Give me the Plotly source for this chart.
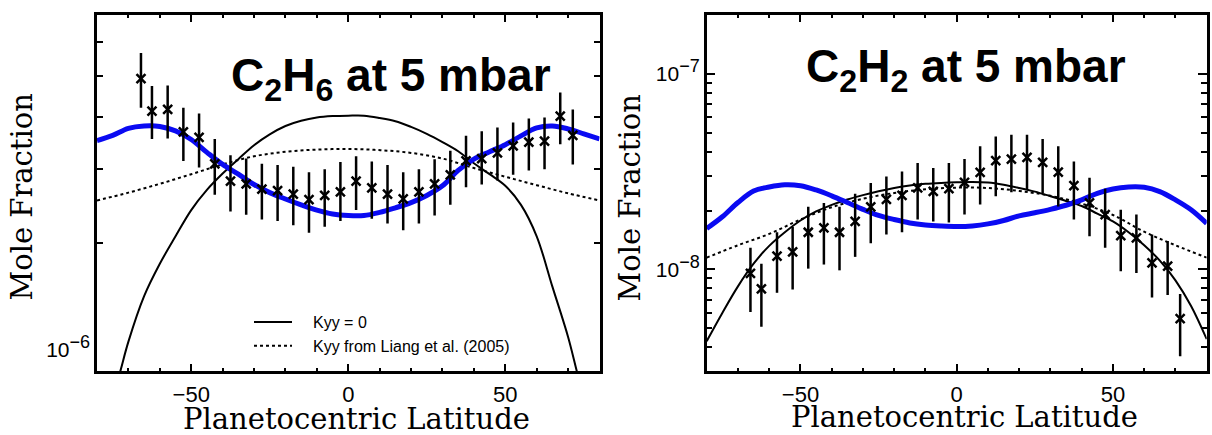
import plotly.graph_objects as go

# ---------------- data: C2H6 at 5 mbar (left panel) ----------------
c2h6_lat = [-66, -62.5, -57.5, -52.5, -47.5, -42.5, -37.5, -32.5, -27.5, -22.5,
            -17.5, -12.5, -7.5, -2.5, 2.5, 7.5, 12.5, 17.5, 22.5, 27.5,
            32.5, 37.5, 42.5, 47.5, 52.5, 57.5, 62.5, 67.5, 71.5]
c2h6_obs = [4.92e-6, 4.12e-6, 4.16e-6, 3.68e-6, 3.57e-6, 3.09e-6, 2.81e-6, 2.77e-6, 2.69e-6, 2.67e-6,
            2.62e-6, 2.54e-6, 2.60e-6, 2.65e-6, 2.81e-6, 2.71e-6, 2.62e-6, 2.55e-6, 2.65e-6, 2.77e-6,
            2.91e-6, 3.14e-6, 3.18e-6, 3.28e-6, 3.41e-6, 3.48e-6, 3.50e-6, 4.01e-6, 3.61e-6]
c2h6_hi = [5.66e-6, 4.73e-6, 4.74e-6, 4.20e-6, 4.07e-6, 3.54e-6, 3.24e-6, 3.18e-6, 3.09e-6, 3.07e-6,
           3.04e-6, 2.95e-6, 3.00e-6, 3.12e-6, 3.22e-6, 3.13e-6, 3.07e-6, 2.95e-6, 3.00e-6, 3.17e-6,
           3.32e-6, 3.60e-6, 3.69e-6, 3.77e-6, 3.87e-6, 3.96e-6, 3.98e-6, 4.56e-6, 4.16e-6]
c2h6_lo = [4.20e-6, 3.54e-6, 3.55e-6, 3.14e-6, 3.03e-6, 2.61e-6, 2.38e-6, 2.34e-6, 2.28e-6, 2.26e-6,
           2.21e-6, 2.12e-6, 2.19e-6, 2.26e-6, 2.40e-6, 2.29e-6, 2.23e-6, 2.15e-6, 2.23e-6, 2.33e-6,
           2.47e-6, 2.72e-6, 2.76e-6, 2.82e-6, 2.91e-6, 2.98e-6, 3.00e-6, 3.44e-6, 3.08e-6]

model_lat = [-80, -75, -70, -65, -60, -55, -50, -45, -40, -35, -30, -25, -20, -15, -10, -5, 0,
             5, 10, 15, 20, 25, 30, 35, 40, 45, 50, 55, 60, 65, 70, 75, 80]
c2h6_blue = [3.51e-6, 3.61e-6, 3.75e-6, 3.80e-6, 3.79e-6, 3.70e-6, 3.53e-6, 3.29e-6, 3.08e-6, 2.92e-6,
             2.76e-6, 2.64e-6, 2.55e-6, 2.47e-6, 2.40e-6, 2.35e-6, 2.33e-6,
             2.33e-6, 2.37e-6, 2.43e-6, 2.50e-6, 2.60e-6, 2.74e-6, 2.98e-6, 3.17e-6, 3.30e-6,
             3.43e-6, 3.60e-6, 3.76e-6, 3.80e-6, 3.74e-6, 3.64e-6, 3.54e-6]

c2h6_kyy0_lat = [-76, -72.5, -70, -65, -60, -55, -50, -45, -40, -35, -30, -25, -20, -15, -10, -5, 0,
                 5, 10, 15, 20, 25, 30, 35, 40, 45, 50, 55, 60, 65, 70, 72.7, 76]
c2h6_kyy0 = [0.80e-6, 1.00e-6, 1.17e-6, 1.50e-6, 1.79e-6, 2.08e-6, 2.40e-6, 2.68e-6, 2.93e-6, 3.17e-6,
             3.42e-6, 3.63e-6, 3.80e-6, 3.91e-6, 3.98e-6, 4.01e-6, 4.02e-6,
             4.02e-6, 3.97e-6, 3.90e-6, 3.78e-6, 3.64e-6, 3.48e-6, 3.31e-6, 3.10e-6, 2.92e-6,
             2.74e-6, 2.47e-6, 2.08e-6, 1.58e-6, 1.20e-6, 1.00e-6, 0.80e-6]

liang_lat = [-80, -70, -60, -50, -40, -30, -20, -10, 0, 10, 20, 30, 40, 50, 60, 70, 80]
c2h6_liang = [2.53e-6, 2.64e-6, 2.77e-6, 2.92e-6, 3.08e-6, 3.22e-6, 3.30e-6, 3.34e-6, 3.35e-6,
              3.33e-6, 3.28e-6, 3.18e-6, 3.02e-6, 2.88e-6, 2.75e-6, 2.63e-6, 2.53e-6]

# ---------------- data: C2H2 at 5 mbar (right panel) ----------------
c2h2_lat = [-66, -62.5, -57.5, -52.5, -47.5, -42.5, -37.5, -32.5, -27.5, -22.5,
            -17.5, -12.5, -7.5, -2.5, 2.5, 7.5, 12.5, 17.5, 22.5, 27.5,
            32.5, 37.5, 42.5, 47.5, 52.5, 57.5, 62.5, 67.5, 71.5]
c2h2_obs = [0.954e-8, 0.797e-8, 1.17e-8, 1.23e-8, 1.55e-8, 1.63e-8, 1.55e-8, 1.76e-8, 2.09e-8, 2.28e-8,
            2.39e-8, 2.61e-8, 2.51e-8, 2.59e-8, 2.79e-8, 3.14e-8, 3.60e-8, 3.67e-8, 3.74e-8, 3.53e-8,
            3.15e-8, 2.68e-8, 2.19e-8, 1.91e-8, 1.49e-8, 1.45e-8, 1.08e-8, 1.04e-8, 0.56e-8]
c2h2_hi = [1.29e-8, 1.07e-8, 1.55e-8, 1.65e-8, 2.09e-8, 2.19e-8, 2.09e-8, 2.44e-8, 2.77e-8, 2.99e-8,
           3.17e-8, 3.50e-8, 3.30e-8, 3.50e-8, 3.67e-8, 4.26e-8, 4.78e-8, 4.88e-8, 4.88e-8, 4.64e-8,
           4.26e-8, 3.57e-8, 2.94e-8, 2.59e-8, 2.02e-8, 1.91e-8, 1.51e-8, 1.40e-8, 0.75e-8]
c2h2_lo = [0.606e-8, 0.51e-8, 0.76e-8, 0.79e-8, 1.01e-8, 1.06e-8, 0.99e-8, 1.16e-8, 1.36e-8, 1.51e-8,
           1.55e-8, 1.80e-8, 1.76e-8, 1.74e-8, 1.91e-8, 2.15e-8, 2.37e-8, 2.48e-8, 2.56e-8, 2.46e-8,
           2.10e-8, 1.80e-8, 1.48e-8, 1.29e-8, 0.98e-8, 0.96e-8, 0.72e-8, 0.74e-8, 0.36e-8]

c2h2_blue = [1.62e-8, 1.86e-8, 2.20e-8, 2.52e-8, 2.64e-8, 2.71e-8, 2.68e-8, 2.55e-8, 2.38e-8, 2.20e-8,
             2.03e-8, 1.89e-8, 1.80e-8, 1.73e-8, 1.69e-8, 1.67e-8, 1.66e-8,
             1.67e-8, 1.71e-8, 1.78e-8, 1.88e-8, 1.95e-8, 2.03e-8, 2.13e-8, 2.27e-8, 2.45e-8,
             2.58e-8, 2.64e-8, 2.63e-8, 2.50e-8, 2.27e-8, 2.02e-8, 1.72e-8]
c2h2_kyy0 = [0.43e-8, 0.60e-8, 0.82e-8, 1.07e-8, 1.32e-8, 1.55e-8, 1.78e-8, 1.98e-8, 2.14e-8, 2.28e-8,
             2.40e-8, 2.51e-8, 2.61e-8, 2.69e-8, 2.74e-8, 2.77e-8, 2.79e-8,
             2.80e-8, 2.78e-8, 2.71e-8, 2.61e-8, 2.50e-8, 2.37e-8, 2.24e-8, 2.11e-8, 1.93e-8,
             1.76e-8, 1.55e-8, 1.33e-8, 1.11e-8, 0.88e-8, 0.65e-8, 0.44e-8]
c2h2_liang = [1.15e-8, 1.33e-8, 1.52e-8, 1.80e-8, 2.08e-8, 2.30e-8, 2.46e-8, 2.57e-8, 2.62e-8,
              2.61e-8, 2.52e-8, 2.38e-8, 2.17e-8, 1.90e-8, 1.56e-8, 1.33e-8, 1.15e-8]

x_tick_vals = [-50, 0, 50]
x_tick_text = ["\u221250", "0", "50"]
SUP = "<sup><span style='font-size:18px'>{}</span></sup>"
c2h6_ytick_vals = [1e-6]
c2h6_ytick_text = ["10" + SUP.format("\u22126")]
c2h6_minor_vals = [2e-6, 3e-6, 4e-6, 5e-6, 6e-6]
c2h2_ytick_vals = [1e-8, 1e-7]
c2h2_ytick_text = ["10" + SUP.format("\u22128"), "10" + SUP.format("\u22127")]
c2h2_minor_vals = [3e-9, 4e-9, 5e-9, 6e-9, 7e-9, 8e-9, 9e-9,
                   2e-8, 3e-8, 4e-8, 5e-8, 6e-8, 7e-8, 8e-8, 9e-8]

legend_names = ["\u2003Kyy = 0", "\u2003Kyy from Liang et al. (2005)"]
panel_titles = ["C<sub>2</sub>H<sub>6</sub> at 5 mbar", "C<sub>2</sub>H<sub>2</sub> at 5 mbar"]

# ---------------- figure ----------------
W, H = 1212, 435
BLUE = "#0a0af2"
fig = go.Figure()


def add_panel(xa, ya, obs_lat, obs, hi, lo, blue, kyy0_lat, kyy0, liang, show_legend):
    fig.add_trace(go.Scatter(x=kyy0_lat, y=kyy0, mode="lines", name=legend_names[0],
                             line=dict(color="black", width=2, shape="spline"), xaxis=xa, yaxis=ya,
                             showlegend=show_legend, legendgroup="a"))
    fig.add_trace(go.Scatter(x=liang_lat, y=liang, mode="lines", name=legend_names[1],
                             line=dict(color="black", width=2, dash="dot", shape="spline"),
                             xaxis=xa, yaxis=ya, showlegend=show_legend, legendgroup="b"))
    fig.add_trace(go.Scatter(x=model_lat, y=blue, mode="lines",
                             line=dict(color=BLUE, width=5, shape="spline"),
                             xaxis=xa, yaxis=ya, showlegend=False))
    fig.add_trace(go.Scatter(
        x=obs_lat, y=obs, mode="markers", xaxis=xa, yaxis=ya, showlegend=False,
        marker=dict(symbol="x-thin", size=9, line=dict(color="black", width=2.5)),
        error_y=dict(type="data", symmetric=False,
                     array=[h - v for h, v in zip(hi, obs)],
                     arrayminus=[v - l for v, l in zip(obs, lo)],
                     color="black", thickness=2.5, width=0)))


add_panel("x", "y", c2h6_lat, c2h6_obs, c2h6_hi, c2h6_lo, c2h6_blue,
          c2h6_kyy0_lat, c2h6_kyy0, c2h6_liang, True)
add_panel("x2", "y2", c2h2_lat, c2h2_obs, c2h2_hi, c2h2_lo, c2h2_blue,
          model_lat, c2h2_kyy0, c2h2_liang, False)

tickfont_x = dict(family="Liberation Sans, Arial, sans-serif", size=22, color="black")
tickfont_y = dict(family="Liberation Sans, Arial, sans-serif", size=21, color="black")


def xaxis_cfg(x0, x1, anchor):
    return dict(domain=[x0 / W, x1 / W], range=[-80, 80], tickmode="array", anchor=anchor,
                tickvals=x_tick_vals, ticktext=x_tick_text, ticks="inside", ticklen=7,
                tickwidth=2, tickcolor="black", showline=True, linecolor="black", linewidth=2.5,
                mirror="ticks", showgrid=False, zeroline=False, tickfont=tickfont_x,
                ticklabelstandoff=2,
                minor=dict(ticks="inside", dtick=10, tick0=0, ticklen=3.5, tickwidth=2,
                           tickcolor="black", showgrid=False))


def yaxis_cfg(rng, tv, tt, mv, shift, anchor):
    return dict(domain=[1 - 371 / H, 1 - 15 / H], type="log", range=rng, tickmode="array",
                tickvals=tv, ticktext=tt, ticks="inside", ticklen=9, tickwidth=2,
                tickcolor="black", showline=True, linecolor="black", linewidth=2.5,
                mirror="ticks", showgrid=False, zeroline=False, tickfont=tickfont_y,
                ticklabelshift=shift, anchor=anchor,
                minor=dict(ticks="inside", tickvals=mv, ticklen=6, tickwidth=2,
                           tickcolor="black", showgrid=False))


fig.update_layout(
    width=W, height=H, autosize=False, margin=dict(l=0, r=0, t=0, b=0),
    paper_bgcolor="white", plot_bgcolor="white",
    xaxis=xaxis_cfg(97, 599.5, "y"),
    yaxis=yaxis_cfg([-6.0015, -5.157], c2h6_ytick_vals, c2h6_ytick_text, c2h6_minor_vals, -21, "x"),
    xaxis2=xaxis_cfg(706.7, 1206.7, "y2"),
    yaxis2=yaxis_cfg([-8.519, -6.699], c2h2_ytick_vals, c2h2_ytick_text, c2h2_minor_vals, 0, "x2"),
    legend=dict(x=249 / W, y=1 - 305 / H, xanchor="left", yanchor="top",
                bgcolor="rgba(0,0,0,0)", borderwidth=0, itemwidth=38,
                font=dict(family="Liberation Sans, Arial, sans-serif", size=16, color="black"),
                tracegroupgap=0),
    showlegend=True,
)

serif = "DejaVu Serif, serif"
annos = [
    dict(text=panel_titles[0], x=391 / W, y=1 - 78 / H),
    dict(text=panel_titles[1], x=966 / W, y=1 - 69 / H),
]
for a in annos:
    fig.add_annotation(xref="paper", yref="paper", showarrow=False, xanchor="center",
                       yanchor="middle",
                       font=dict(family="Liberation Sans, Arial, sans-serif", size=46,
                                 color="black", weight="bold"), **a)

axis_titles = [
    dict(text="Planetocentric Latitude", x=356.5 / W, y=1 - 419 / H, textangle=0),
    dict(text="Planetocentric Latitude", x=964 / W, y=1 - 416.5 / H, textangle=0),
    dict(text="Mole Fraction", x=21 / W, y=1 - 197.5 / H, textangle=-90),
    dict(text="Mole Fraction", x=629 / W, y=1 - 198.5 / H, textangle=-90),
]
for a in axis_titles:
    fig.add_annotation(xref="paper", yref="paper", showarrow=False, xanchor="center",
                       yanchor="middle", font=dict(family=serif, size=29, color="black"), **a)

fig.write_html("out.html",
               config={"responsive": False, "displayModeBar": False},
               default_width="1212px", default_height="435px",
               post_script="document.body.style.margin='0';")
